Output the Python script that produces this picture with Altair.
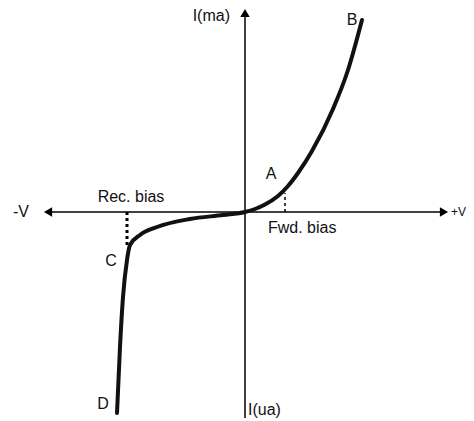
import altair as alt
import pandas as pd

# Diode characteristic curve (V in arbitrary units, I in arbitrary units)
curve_v = [-12.8, -12.5, -12.2, -11.8, -11.5, -10.5, -8.8, -5.5, -2.2, 0.0,
           1.0, 2.0, 3.3, 4.3, 5.3, 6.7, 8.8, 10.3, 11.7]
curve_i = [-20.1, -13.5, -8.5, -4.8, -3.3, -2.3, -1.5, -0.7, -0.3, 0.0,
           0.3, 0.75, 1.6, 2.6, 3.9, 6.1, 10.3, 14.2, 19.2]

# Annotation labels
label_text = ["A", "B", "C", "D", "Rec. bias"]
label_v = [2.6, 10.7, -13.4, -14.2, -11.4]
label_i = [3.8, 19.2, -4.9, -19.2, 1.5]

left_text = ["Fwd. bias", "-V", "I(ua)"]
left_v = [2.3, -23.2, 0.3]
left_i = [-1.6, 0.0, -19.8]

edge_text = ["+V"]
edge_v = [20.6]
edge_i = [0.0]

right_text = ["I(ma)"]
right_v = [-1.5]
right_i = [19.6]

# Dotted guides (x, y from, y to)
guide_v = [-11.8, 4.0]
guide_i1 = [0.0, 0.0]
guide_i2 = [-3.6, 1.9]
guide_w = [3.0, 1.5]

# Axis extents
h_axis = {"x1": [-19.8], "x2": [20.0], "y": [0.0]}
v_axis = {"x": [0.0], "y1": [-20.6], "y2": [19.9]}
arrows = {"x": [-19.7, 19.9, 0.0], "y": [0.0, 0.0, 19.9],
          "shape": ["triangle-left", "triangle-right", "triangle-up"]}

xs = alt.Scale(domain=[-23.7, 22.1], nice=False, zero=False)
ys = alt.Scale(domain=[-20.6, 20.4], nice=False, zero=False)

curve_df = pd.DataFrame({"v": curve_v, "i": curve_i, "o": range(len(curve_v))})

haxis = alt.Chart(pd.DataFrame(h_axis)).mark_rule(color="black", strokeWidth=1.5).encode(
    x=alt.X("x1:Q", scale=xs, axis=None), x2="x2:Q", y=alt.Y("y:Q", scale=ys, axis=None))
vaxis = alt.Chart(pd.DataFrame(v_axis)).mark_rule(color="black", strokeWidth=1.5).encode(
    x=alt.X("x:Q", scale=xs, axis=None), y=alt.Y("y1:Q", scale=ys, axis=None), y2="y2:Q")
heads = alt.Chart(pd.DataFrame(arrows)).mark_point(filled=True, color="black", size=90, opacity=1).encode(
    x=alt.X("x:Q", scale=xs, axis=None), y=alt.Y("y:Q", scale=ys, axis=None),
    shape=alt.Shape("shape:N", scale=None, legend=None))

guides = alt.Chart(pd.DataFrame({"v": guide_v, "a": guide_i1, "b": guide_i2, "w": guide_w})).mark_rule(
    color="black", strokeDash=[3, 3]).encode(
    x=alt.X("v:Q", scale=xs, axis=None), y=alt.Y("a:Q", scale=ys, axis=None), y2="b:Q",
    strokeWidth=alt.StrokeWidth("w:Q", scale=None, legend=None))

line = alt.Chart(curve_df).mark_line(color="#111111", strokeWidth=4, interpolate="monotone",
                                      strokeCap="round").encode(
    x=alt.X("v:Q", scale=xs, axis=None), y=alt.Y("i:Q", scale=ys, axis=None), order="o:Q")

font = "Liberation Sans"
tcol = "#111111"
lab_c = alt.Chart(pd.DataFrame({"t": label_text, "v": label_v, "i": label_i})).mark_text(
    font=font, fontSize=16, color=tcol, align="center", baseline="middle").encode(
    x=alt.X("v:Q", scale=xs, axis=None), y=alt.Y("i:Q", scale=ys, axis=None), text="t:N")
lab_l = alt.Chart(pd.DataFrame({"t": left_text, "v": left_v, "i": left_i})).mark_text(
    font=font, fontSize=16, color=tcol, align="left", baseline="middle").encode(
    x=alt.X("v:Q", scale=xs, axis=None), y=alt.Y("i:Q", scale=ys, axis=None), text="t:N")
lab_e = alt.Chart(pd.DataFrame({"t": edge_text, "v": edge_v, "i": edge_i})).mark_text(
    font=font, fontSize=12, color=tcol, align="left", baseline="middle").encode(
    x=alt.X("v:Q", scale=xs, axis=None), y=alt.Y("i:Q", scale=ys, axis=None), text="t:N")
lab_r = alt.Chart(pd.DataFrame({"t": right_text, "v": right_v, "i": right_i})).mark_text(
    font=font, fontSize=16, color=tcol, align="right", baseline="middle").encode(
    x=alt.X("v:Q", scale=xs, axis=None), y=alt.Y("i:Q", scale=ys, axis=None), text="t:N")

chart = alt.layer(haxis, vaxis, heads, guides, line, lab_c, lab_l, lab_e, lab_r).properties(
    width=458, height=410, padding=0, autosize=alt.AutoSizeParams(type="none")
).configure_view(stroke=None)

chart.save("out.html", embed_options={"renderer": "svg", "actions": False})
